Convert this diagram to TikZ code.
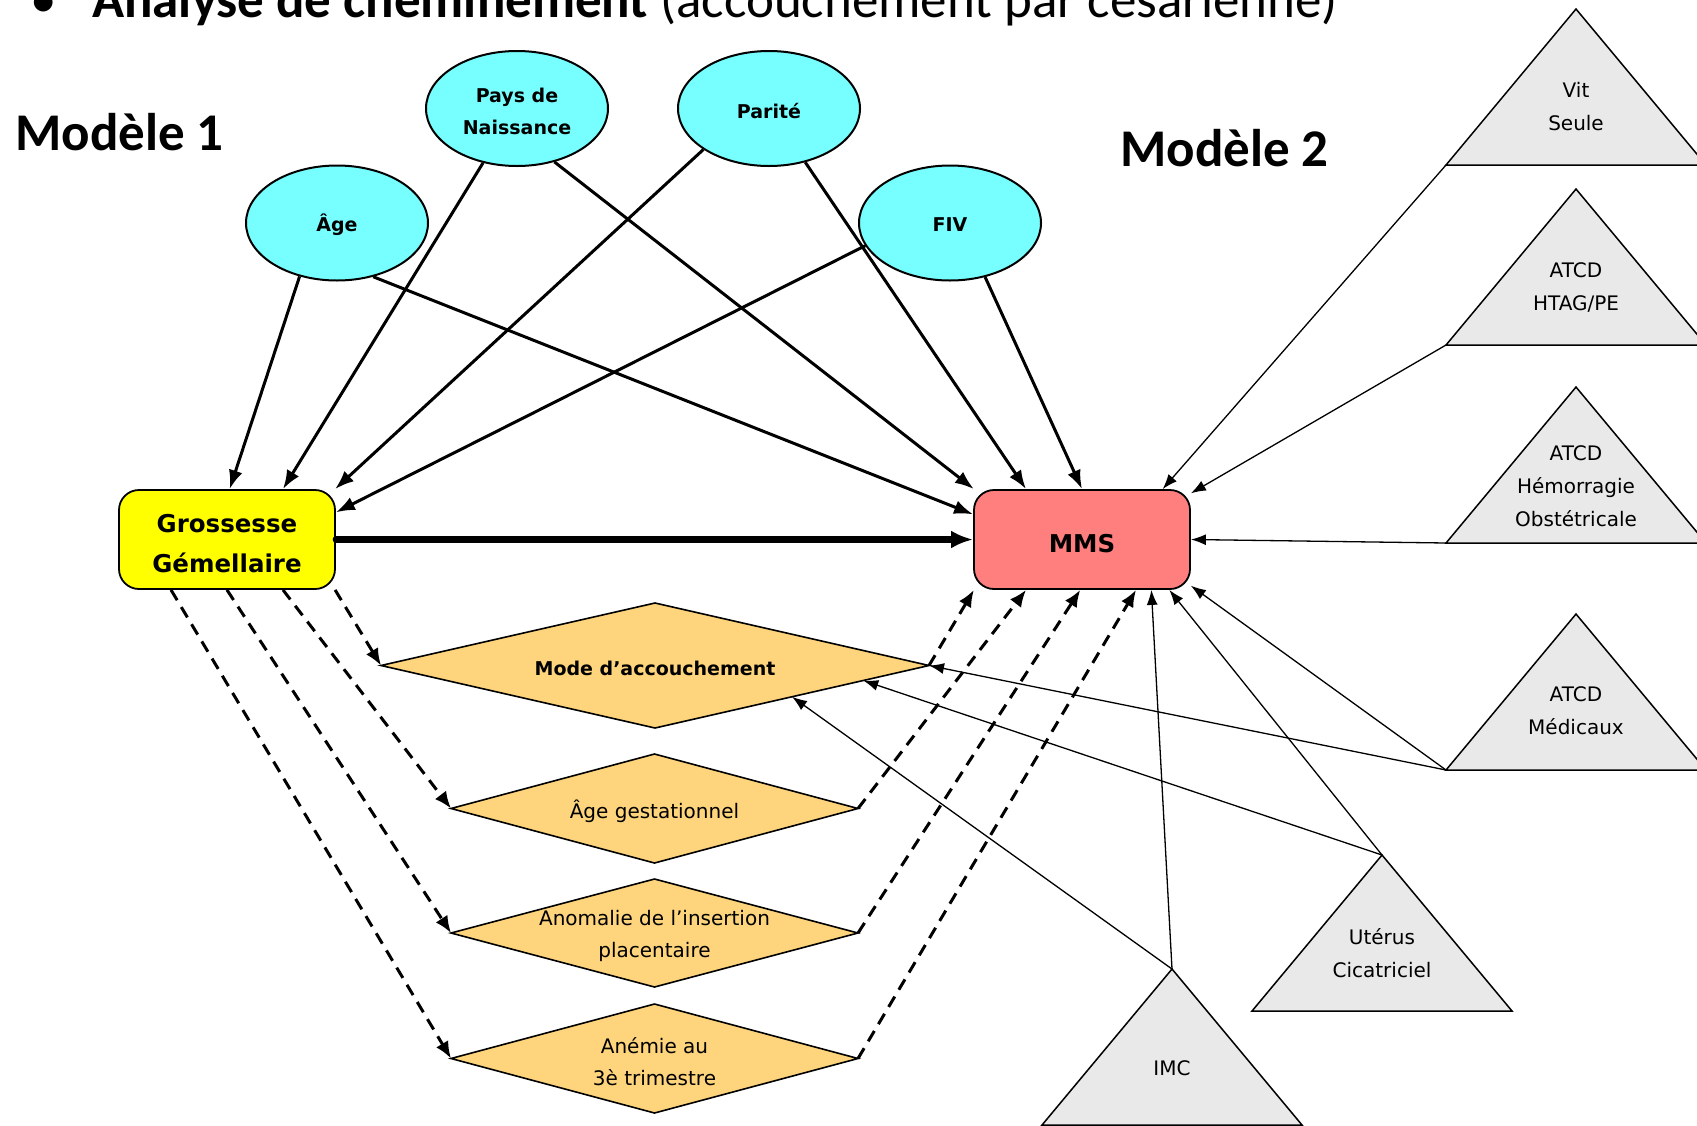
\documentclass[tikz,border=0pt]{standalone}
\usepackage{fontspec}
\setmainfont{DejaVu Sans}
\newfontfamily\carlito{Carlito}
\usetikzlibrary{shapes.geometric,arrows.meta,calc}
\definecolor{cyanfill}{HTML}{77FFFF}
\definecolor{ggfill}{HTML}{FFFF00}
\definecolor{mmsfill}{HTML}{FF7F7F}
\definecolor{diafill}{HTML}{FED47C}
\definecolor{trifill}{HTML}{E9E9E9}
\begin{document}
\begin{tikzpicture}[x=1pt,y=-1pt,
  ell/.style={ellipse, draw, line width=2pt, fill=cyanfill, minimum width=182pt, minimum height=115pt, inner sep=0pt},
  elltext/.style={align=center, inner sep=0pt, font=\fontsize{19}{32}\selectfont\bfseries},
  box/.style={rectangle, rounded corners=20pt, draw, line width=1.8pt, minimum width=216pt, minimum height=99pt, inner sep=0pt},
  boxtext/.style={align=center, inner sep=0pt, font=\fontsize{24.5}{40}\selectfont\bfseries},
  dia/.style={diamond, draw, line width=1.6pt, fill=diafill, inner sep=0pt, outer sep=0pt},
  diatext/.style={align=center, inner sep=0pt, font=\fontsize{20}{32}\selectfont},
  tri/.style={draw, line width=1.5pt, fill=trifill, line join=miter},
  tritext/.style={align=center, inner sep=0pt, font=\fontsize{20}{33}\selectfont},
  titletext/.style={inner sep=0pt, anchor=base west, font=\carlito\fontsize{53}{60}\selectfont},
  big/.style={line width=3pt, -{Latex[length=19pt,width=14pt]}},
  thinarr/.style={line width=1.3pt, -{Latex[length=15pt,width=11pt]}},
  dasharr/.style={line width=3pt, dash pattern=on 12pt off 8pt, -{Latex[length=17pt,width=14pt]}},
  mainarr/.style={line width=6.5pt, line cap=round, -{Latex[length=22pt,width=18pt]}}
]
\useasboundingbox (0,0) rectangle (1697,1125);

% titles
\node[titletext] (bullet) at (30,17) {•};
\node[titletext] (title) at (92,17) {\textbf{Analyse de cheminement} (accouchement par césarienne)};
\node[titletext] (m1) at (15,150) {\textbf{Modèle 1}};
\node[titletext] (m2) at (1120,166) {\textbf{Modèle 2}};

% ellipses
\node[ell] (age) at (337,223) {};
\node[elltext] (aget) at (337,225) {Âge};
\node[ell] (pays) at (517,108.5) {};
\node[elltext] (payst) at (517,111) {Pays de\\Naissance};
\node[ell] (parite) at (769,108.5) {};
\node[elltext] (paritet) at (769,111) {Parité};
\node[ell] (fiv) at (950,223) {};
\node[elltext] (fivt) at (950,225) {FIV};

% boxes
\node[box, fill=ggfill] (gg) at (227,539.5) {};
\node[boxtext] (ggt) at (227,543.5) {Grossesse\\Gémellaire};
\node[box, fill=mmsfill] (mms) at (1082,539.5) {};
\node[boxtext] (mmst) at (1082,543.5) {MMS};

% diamonds
\node[dia, minimum width=548pt, minimum height=125pt] (mode) at (655,665.5) {};
\node[diatext, font=\fontsize{19}{32}\selectfont\bfseries] (modet) at (655,668) {Mode d’accouchement};
\node[dia, minimum width=407pt, minimum height=109pt] (agest) at (654.5,808.5) {};
\node[diatext] (agestt) at (654.5,811) {Âge gestationnel};
\node[dia, minimum width=407pt, minimum height=108pt] (anom) at (654.5,933) {};
\node[diatext] (anomt) at (654.5,936) {Anomalie de l’insertion\\placentaire};
\node[dia, minimum width=407pt, minimum height=109pt] (anem) at (654.5,1058.5) {};
\node[diatext] (anemt) at (654.5,1061.5) {Anémie au\\3è trimestre};

% triangles
\coordinate (vitA) at (1576,9);   \coordinate (vitL) at (1446,165);
\coordinate (htagA) at (1576,189); \coordinate (htagL) at (1446,345);
\coordinate (hemoA) at (1576,387); \coordinate (hemoL) at (1446,543);
\coordinate (mediA) at (1576,614); \coordinate (mediL) at (1446,770);
\coordinate (uterA) at (1382,855); \coordinate (uterL) at (1252,1011);
\coordinate (imcA) at (1172,969);  \coordinate (imcL) at (1042,1125);
\foreach \t in {vit,htag,hemo,medi,uter,imc}{
  \draw[tri] (\t A) -- (\t L) -- ++(260,0) -- cycle;
}
\node[tritext] (vitt) at (1576,107) {Vit\\Seule};
\node[tritext] (htagt) at (1576,287.5) {ATCD\\HTAG/PE};
\node[tritext] (hemot) at (1576,486) {ATCD\\Hémorragie\\Obstétricale};
\node[tritext] (medit) at (1576,711) {ATCD\\Médicaux};
\node[tritext] (utert) at (1382,953) {Utérus\\Cicatriciel};
\node[tritext] (imct) at (1172,1068) {IMC};

% thick arrows from ellipses
\draw[big] (age.235) -- (gg.87);
\draw[big] (age.304) -- (mms.167);
\draw[big] (pays.238) -- (gg.42);
\draw[big] (pays.305) -- (mms.155);
\draw[big] (parite.212) -- (gg.25);
\draw[big] (parite.304) -- (mms.138);
\draw[big] (fiv.195) -- (gg.14);
\draw[big] (fiv.303) -- (mms.90);

% main arrow
\draw[mainarr] (gg.east) -- (mms.west);

% dashed arrows
\draw[dasharr] (gg.335) -- (mode.west);
\draw[dasharr] (gg.318) -- (agest.west);
\draw[dasharr] (gg.270) -- (anom.west);
\draw[dasharr] (gg.222) -- (anem.west);
\draw[dasharr] (mode.east) -- (mms.205);
\draw[dasharr] (agest.east) -- (mms.222);
\draw[dasharr] (anom.east) -- (mms.268);
\draw[dasharr] (anem.east) -- (mms.317);

% thin arrows from triangles
\draw[thinarr] (vitL) -- (mms.32);
\draw[thinarr] (htagL) -- (mms.23);
\draw[thinarr] (hemoL) -- (mms.east);
\draw[thinarr] (mediL) -- (mms.337);
\draw[thinarr] (mediL) -- (mode.east);
\draw[thinarr] (uterA) -- (mms.330);
\draw[thinarr] (uterA) -- ($(mode.east)!0.24!(mode.south)$);
\draw[thinarr] (imcA) -- (mms.324);
\draw[thinarr] (imcA) -- ($(mode.east)!0.5!(mode.south)$);
\end{tikzpicture}
\end{document}
